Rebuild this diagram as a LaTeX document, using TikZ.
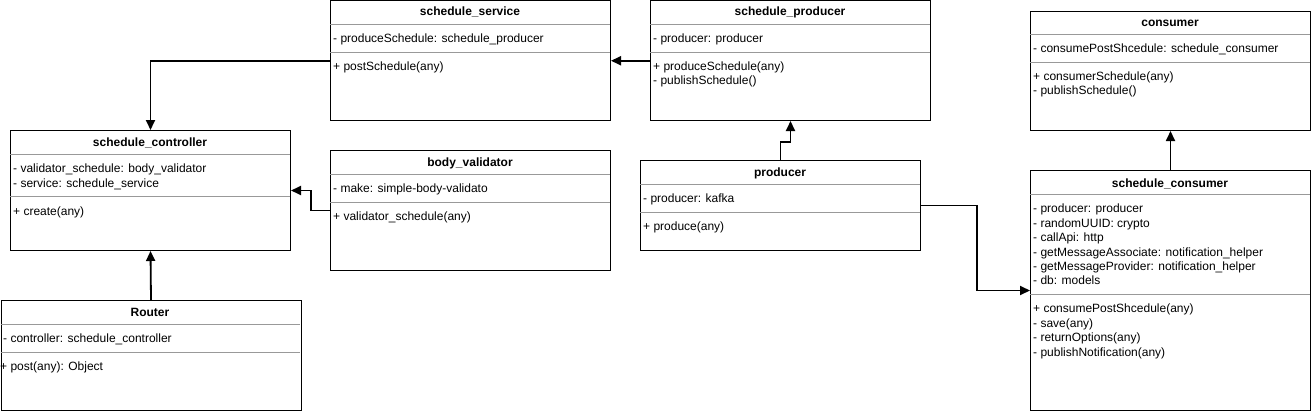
\documentclass[tikz,border=0pt]{standalone}
\usepackage{fontspec}
\setmainfont{Liberation Sans}
\usetikzlibrary{arrows.meta,calc}
\begin{document}
\begin{tikzpicture}[x=1pt,y=-1pt,
  umlbox/.style={draw=black, line width=1pt, anchor=north west, inner sep=0pt, fill=white},
  sepline/.style={draw=black!40, line width=0.8pt},
  titletext/.style={inner sep=0pt, yshift=-2pt, font=\fontsize{12}{14}\selectfont\bfseries, text height=8.5pt, text depth=2.5pt},
  rowtext/.style={anchor=west, inner sep=0pt, yshift=-1.5pt, font=\fontsize{12}{14}\selectfont, text height=8.5pt, text depth=2.5pt},
  conn/.style={draw=black, line width=1.8pt, -{Triangle[length=10pt,width=9pt]}}
]
\useasboundingbox (0,0) rectangle (1311,412);

% ---------- schedule_service ----------
\node[umlbox, minimum width=280pt, minimum height=119.5pt] (svc) at (330,0.5) {};
\draw[sepline] (330,24) -- (610,24);
\draw[sepline] (330,52) -- (610,52);
\node[titletext] (svcT) at (470,11) {schedule\_service};
\node[rowtext] (svcA1) at (333,38) {- produceSchedule: schedule\_producer};
\node[rowtext] (svcM1) at (333,66) {+ postSchedule(any)};

% ---------- schedule_producer ----------
\node[umlbox, minimum width=280pt, minimum height=119.5pt] (sp) at (650,0.5) {};
\draw[sepline] (650,24) -- (930,24);
\draw[sepline] (650,52) -- (930,52);
\node[titletext] (spT) at (790,11) {schedule\_producer};
\node[rowtext] (spA1) at (653,38) {- producer: producer};
\node[rowtext] (spM1) at (653,66) {+ produceSchedule(any)};
\node[rowtext] (spM2) at (653,80) {- publishSchedule()};

% ---------- consumer ----------
\node[umlbox, minimum width=280pt, minimum height=119pt] (cons) at (1030,11) {};
\draw[sepline] (1030,34) -- (1310,34);
\draw[sepline] (1030,62) -- (1310,62);
\node[titletext] (consT) at (1170,22) {consumer};
\node[rowtext] (consA1) at (1033,48) {- consumePostShcedule: schedule\_consumer};
\node[rowtext] (consM1) at (1033,76) {+ consumerSchedule(any)};
\node[rowtext] (consM2) at (1033,90) {- publishSchedule()};

% ---------- schedule_controller ----------
\node[umlbox, minimum width=280pt, minimum height=120pt] (ctrl) at (10,130) {};
\draw[sepline] (10,154) -- (290,154);
\draw[sepline] (10,196) -- (290,196);
\node[titletext] (ctrlT) at (150,141) {schedule\_controller};
\node[rowtext] (ctrlA1) at (13,168) {- validator\_schedule: body\_validator};
\node[rowtext] (ctrlA2) at (13,183) {- service: schedule\_service};
\node[rowtext] (ctrlM1) at (13,211) {+ create(any)};

% ---------- body_validator ----------
\node[umlbox, minimum width=280pt, minimum height=120pt] (bv) at (330,150) {};
\draw[sepline] (330,174) -- (610,174);
\draw[sepline] (330,202) -- (610,202);
\node[titletext] (bvT) at (470,161) {body\_validator};
\node[rowtext] (bvA1) at (333,188) {- make: simple-body-validato};
\node[rowtext] (bvM1) at (333,216) {+ validator\_schedule(any)};

% ---------- producer ----------
\node[umlbox, minimum width=280pt, minimum height=90pt] (prod) at (640,160) {};
\draw[sepline] (640,184) -- (920,184);
\draw[sepline] (640,212) -- (920,212);
\node[titletext] (prodT) at (780,171) {producer};
\node[rowtext] (prodA1) at (643,198) {- producer: kafka};
\node[rowtext] (prodM1) at (643,226) {+ produce(any)};

% ---------- schedule_consumer ----------
\node[umlbox, minimum width=280pt, minimum height=240pt] (sc) at (1030,170) {};
\draw[sepline] (1030,194) -- (1310,194);
\draw[sepline] (1030,294) -- (1310,294);
\node[titletext] (scT) at (1170,182) {schedule\_consumer};
\node[rowtext] (scA1) at (1033,208) {- producer: producer};
\node[rowtext] (scA2) at (1033,222.5) {- randomUUID: crypto};
\node[rowtext] (scA3) at (1033,237) {- callApi: http};
\node[rowtext] (scA4) at (1033,251.5) {- getMessageAssociate: notification\_helper};
\node[rowtext] (scA5) at (1033,266) {- getMessageProvider: notification\_helper};
\node[rowtext] (scA6) at (1033,280) {- db: models};
\node[rowtext] (scM1) at (1033,308) {+ consumePostShcedule(any)};
\node[rowtext] (scM2) at (1033,323) {- save(any)};
\node[rowtext] (scM3) at (1033,337) {- returnOptions(any)};
\node[rowtext] (scM4) at (1033,352) {- publishNotification(any)};

% ---------- Router ----------
\node[umlbox, minimum width=300pt, minimum height=110pt] (router) at (0.5,300) {};
\draw[sepline] (0.5,324) -- (300,324);
\draw[sepline] (0.5,352) -- (300,352);
\node[titletext] (routerT) at (150,311) {Router};
\node[rowtext] (routerA1) at (3,338) {- controller: schedule\_controller};
\node[rowtext] (routerM1) at (0,366) {+ post(any): Object};

% ---------- connectors ----------
\draw[conn] (svc.west) -| (ctrl.north);
\draw[conn] (bv.west) -- ++(-19,0) |- (ctrl.east);
\draw[conn] (router.north) -- (ctrl.south);
\draw[conn] (sp.west) -- (svc.east);
\draw[conn] (prod.north) -- ++(0,-18) -| (sp.south);
\draw[conn] (prod.east) -- ++(56,0) |- (sc.west);
\draw[conn] (sc.north) -- (cons.south);
\end{tikzpicture}
\end{document}
